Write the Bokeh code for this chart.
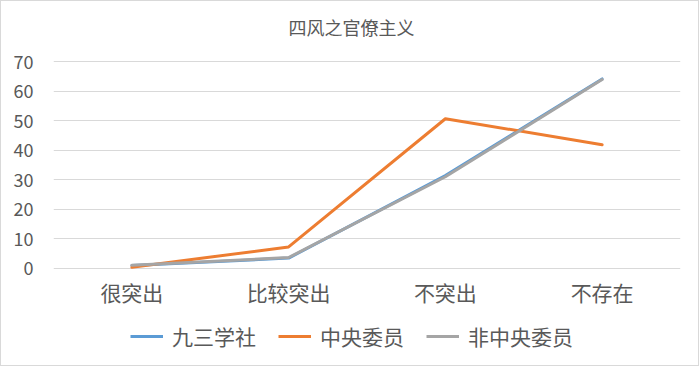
from bokeh.plotting import figure
from bokeh.models import FactorRange, Range1d, Legend, LegendItem, FixedTicker, Label
from bokeh.layouts import column
from bokeh.embed import file_html
from bokeh.resources import INLINE

categories = ["很突出", "比较突出", "不突出", "不存在"]
jiusan = [0.9, 3.4, 31.4, 64.2]
zhongyang = [0.3, 7.2, 50.7, 41.9]
feizhongyang = [1.0, 3.6, 31.0, 64.0]
series_names = ["九三学社", "中央委员", "非中央委员"]
series_colors = ["#5B9BD5", "#ED7D31", "#A5A5A5"]
y_ticks = [0, 10, 20, 30, 40, 50, 60, 70]
title_text = "四风之官僚主义"

FONT = "Noto Sans CJK SC"
TXT = "#595959"
series_values = [jiusan, zhongyang, feizhongyang]


def strip(height):
    f = figure(width=697, height=height, x_range=Range1d(0, 1), y_range=Range1d(0, 1),
               output_backend="svg", toolbar_location=None,
               min_border_left=52, min_border_right=18,
               min_border_top=0, min_border_bottom=0)
    f.xaxis.visible = False
    f.yaxis.visible = False
    f.grid.visible = False
    f.outline_line_color = None
    return f


# title strip
tt = strip(40)
tt.add_layout(Label(x=0.5, y=0.5, text=title_text, text_align="center",
                    text_baseline="middle", x_offset=-15.5, y_offset=-5,
                    text_font=FONT, text_font_size="18px", text_color=TXT))

# main chart
p = figure(width=697, height=272, x_range=FactorRange(*categories),
           y_range=Range1d(-0.8, 70.8), output_backend="svg",
           toolbar_location=None, min_border_left=52, min_border_right=18,
           min_border_top=18, min_border_bottom=43)

p.outline_line_color = None
p.xgrid.grid_line_color = None
p.ygrid.grid_line_color = "#D9D9D9"
p.ygrid.grid_line_width = 1
p.yaxis.ticker = FixedTicker(ticks=y_ticks)

for ax in (p.xaxis, p.yaxis):
    ax.axis_line_color = None
    ax.major_tick_line_color = None
    ax.minor_tick_line_color = None
    ax.major_tick_out = 0
    ax.major_tick_in = 0
    ax.minor_tick_out = 0
    ax.major_label_text_font = FONT
    ax.major_label_text_color = TXT
p.yaxis.major_label_text_font_size = "18px"
p.yaxis.major_label_standoff = 20
p.xaxis.major_label_text_font_size = "21px"
p.xaxis.major_label_standoff = 6

for vals, col in zip(series_values, series_colors):
    p.line(categories, vals, line_color=col, line_width=3,
           line_join="round", line_cap="round")

# legend strip below the chart (its lines lie outside its visible range)
lg = figure(width=697, height=52, x_range=FactorRange(*categories),
            y_range=Range1d(1000, 1001),
            output_backend="svg", toolbar_location=None,
            min_border_left=52, min_border_right=18,
            min_border_top=0, min_border_bottom=0)
lg.xaxis.visible = False
lg.yaxis.visible = False
lg.grid.visible = False
lg.outline_line_color = None
dummies = [lg.line(categories, vals, line_color=c, line_width=3)
           for vals, c in zip(series_values, series_colors)]

legend = Legend(items=[LegendItem(label=n, renderers=[r]) for n, r in zip(series_names, dummies)],
                orientation="horizontal", location=(77, 14),
                label_text_font=FONT, label_text_font_size="21px", label_text_color=TXT,
                glyph_width=33, label_standoff=9, spacing=22, border_line_color=None,
                background_fill_alpha=0, padding=0, margin=0)
lg.add_layout(legend, "center")

layout = column(tt, p, lg, spacing=0, styles={"border": "1px solid #D9D9D9"})
open("out.html", "w").write(file_html(layout, INLINE))
